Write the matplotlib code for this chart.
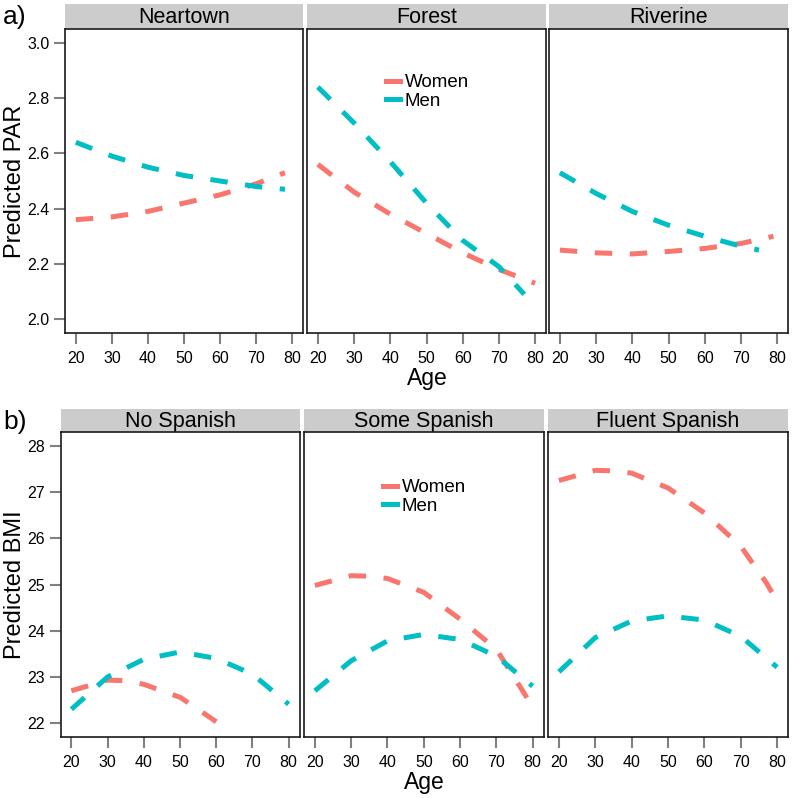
import matplotlib
matplotlib.use("Agg")
import matplotlib.pyplot as plt
from matplotlib.lines import Line2D

plt.rcParams['font.family'] = ['Liberation Sans', 'DejaVu Sans']

W, H = 793, 798

# colours used by ggplot for two groups
women_col = '#F8766D'
men_col = '#00BFC4'

# ---- panel a) predicted PAR by region ----
regions = ['Neartown', 'Forest', 'Riverine']
par_women_age = [[20, 30, 40, 50, 60, 70, 78],
                 [20, 30, 40, 50, 60, 70, 80],
                 [20, 30, 40, 50, 60, 70, 79]]
par_women = [[2.36, 2.37, 2.39, 2.42, 2.45, 2.49, 2.53],
             [2.56, 2.46, 2.38, 2.31, 2.24, 2.18, 2.13],
             [2.25, 2.24, 2.236, 2.245, 2.256, 2.274, 2.30]]
par_men_age = [[20, 30, 40, 50, 60, 70, 78],
               [20, 30, 40, 50, 60, 70, 77],
               [20, 30, 40, 50, 60, 70, 75]]
par_men = [[2.64, 2.59, 2.55, 2.52, 2.50, 2.48, 2.47],
           [2.84, 2.71, 2.57, 2.42, 2.285, 2.19, 2.09],
           [2.53, 2.455, 2.39, 2.34, 2.30, 2.264, 2.25]]
par_ticks = [2.0, 2.2, 2.4, 2.6, 2.8, 3.0]

# ---- panel b) predicted BMI by Spanish fluency ----
spanish = ['No Spanish', 'Some Spanish', 'Fluent Spanish']
bmi_women_age = [[20, 30, 35, 40, 50, 55, 60],
                 [20, 30, 35, 40, 50, 60, 70, 77, 80],
                 [20, 30, 35, 40, 50, 60, 70, 77, 80]]
bmi_women = [[22.70, 22.93, 22.92, 22.84, 22.56, 22.30, 22.03],
             [24.98, 25.19, 25.18, 25.13, 24.83, 24.25, 23.60, 22.73, 22.35],
             [27.25, 27.47, 27.46, 27.41, 27.09, 26.55, 25.83, 25.04, 24.64]]
bmi_men_age = [[20, 30, 40, 50, 60, 70, 80]] * 3
bmi_men = [[22.30, 23.00, 23.38, 23.54, 23.40, 23.06, 22.41],
           [22.70, 23.35, 23.78, 23.92, 23.81, 23.45, 22.80],
           [23.11, 23.85, 24.21, 24.32, 24.23, 23.88, 23.21]]
bmi_ticks = [22, 23, 24, 25, 26, 27, 28]

age_ticks = [20, 30, 40, 50, 60, 70, 80]

fig = plt.figure(figsize=(W / 100, H / 100), dpi=100)


def px_axes(x0, x1, y0, y1):
    return fig.add_axes([x0 / W, 1 - y1 / H, (x1 - x0) / W, (y1 - y0) / H])


def draw_row(xs, top, strip_top, bottom, names, w_age, w_val, m_age, m_val,
             ylim, yticks, ylabel_fmt):
    axes = []
    for i, (x0, x1) in enumerate(xs):
        strip = px_axes(x0, x1, strip_top, top)
        strip.set_facecolor('#CCCCCC')
        strip.set_xticks([])
        strip.set_yticks([])
        for s in strip.spines.values():
            s.set_visible(False)
        strip.text(0.5, 0.45, names[i], ha='center', va='center',
                   fontsize=15.5, transform=strip.transAxes)

        ax = px_axes(x0, x1, top, bottom)
        ax.plot(w_age[i], w_val[i], color=women_col, lw=3.6,
                linestyle=(0, (3.5, 3.5)), dash_capstyle='butt')
        ax.plot(m_age[i], m_val[i], color=men_col, lw=3.6,
                linestyle=(0, (3.5, 3.5)), dash_capstyle='butt')
        ax.set_xlim(17, 83)
        ax.set_ylim(*ylim)
        ax.set_xticks(age_ticks)
        ax.set_yticks(yticks)
        if i == 0:
            ax.set_yticklabels([ylabel_fmt.format(v) for v in yticks])
        else:
            ax.tick_params(axis='y', left=False, labelleft=False)
        ax.tick_params(direction='out', length=8, width=1.5, color='#808080',
                       labelsize=11.5, labelcolor='black')
        ax.tick_params(axis='x', pad=5)
        ax.tick_params(axis='y', pad=3)
        for s in ax.spines.values():
            s.set_linewidth(1.2)
            s.set_color('#1a1a1a')
        axes.append(ax)
    return axes


top_axes = draw_row([(65, 303), (307, 546), (549, 788)], 29, 4, 333,
                    regions, par_women_age, par_women, par_men_age, par_men,
                    (1.95, 3.05), par_ticks, '{:.1f}')
bot_axes = draw_row([(60.5, 299.5), (304, 543.5), (548, 788)], 432, 409, 737,
                    spanish, bmi_women_age, bmi_women, bmi_men_age, bmi_men,
                    (21.7, 28.3), bmi_ticks, '{:d}')

handles = [Line2D([], [], color=women_col, lw=3.6),
           Line2D([], [], color=men_col, lw=3.6)]
for ax, ytop in [(top_axes[1], 0.852), (bot_axes[1], 0.845)]:
    ax.legend(handles, ['Women', 'Men'], loc='upper left',
              bbox_to_anchor=(0.33, ytop), frameon=False, fontsize=13.5,
              handlelength=0.75, handletextpad=0.25, labelspacing=0.08,
              borderpad=0, borderaxespad=0)

fig.text(427 / W, 1 - 385 / H, 'Age', ha='center', va='baseline', fontsize=16.5)
fig.text(424 / W, 1 - 789 / H, 'Age', ha='center', va='baseline', fontsize=16.5)
fig.text(15 / W, 1 - 181 / H, 'Predicted PAR', ha='center', va='center',
         rotation=90, fontsize=17)
fig.text(15 / W, 1 - 585 / H, 'Predicted BMI', ha='center', va='center',
         rotation=90, fontsize=17)
fig.text(3 / W, 1 - 17 / H, 'a)', ha='left', va='center', fontsize=19)
fig.text(3 / W, 1 - 422 / H, 'b)', ha='left', va='center', fontsize=19)

fig.savefig('out.png', dpi=100)
